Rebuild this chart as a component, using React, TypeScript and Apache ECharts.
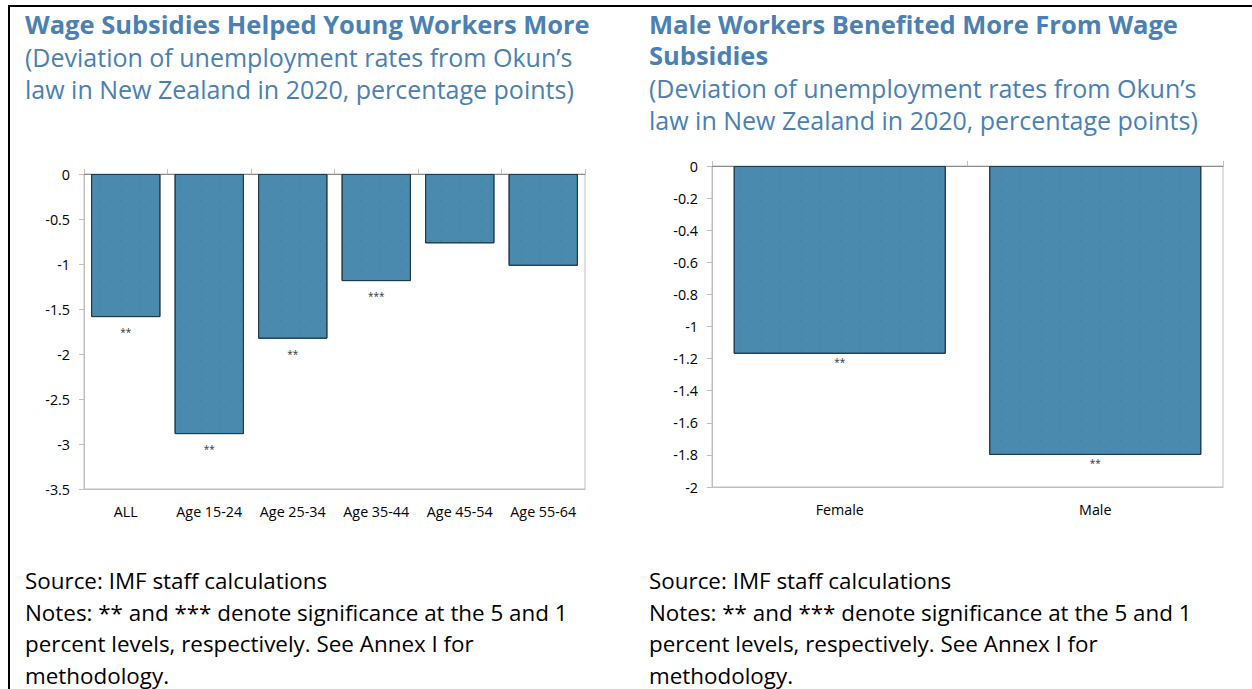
import React, { useEffect, useRef } from 'react';
import * as echarts from 'echarts';

const leftCategories = ['ALL', 'Age 15-24', 'Age 25-34', 'Age 35-44', 'Age 45-54', 'Age 55-64'];
const leftValues = [-1.59, -2.89, -1.83, -1.19, -0.77, -1.02];
const leftStars = ['**', '**', '**', '***', '', ''];

const rightCategories = ['Female', 'Male'];
const rightValues = [-1.17, -1.8];
const rightStars = ['**', '**'];

const leftTitle = ['Wage Subsidies Helped Young Workers More'];
const leftSubtitle = ['(Deviation of unemployment rates from Okun\u2019s', 'law in New Zealand in 2020, percentage points)'];
const rightTitle = ['Male Workers Benefited More From Wage', 'Subsidies'];
const rightSubtitle = ['(Deviation of unemployment rates from Okun\u2019s', 'law in New Zealand in 2020, percentage points)'];
const footer = [
  'Source: IMF staff calculations',
  'Notes: ** and *** denote significance at the 5 and 1',
  'percent levels, respectively. See Annex I for',
  'methodology.',
];

const FONT = "'Open Sans', 'Noto Sans', sans-serif";
const BLUE = '#4a80b4';
const BAR = '#4a8aae';
const AX = 14.3;

function textLines(lines: string[], x: number, ys: number[], size: number, weight: string, color: string) {
  return lines.map((t, i) => ({
    type: 'text',
    x,
    y: ys[i],
    style: { text: t, fill: color, fontSize: size, fontFamily: FONT, fontWeight: weight, verticalAlign: 'middle' },
  }));
}

export default function App() {
  const ref = useRef<HTMLDivElement>(null);
  useEffect(() => {
    const chart = echarts.init(ref.current!, null, { renderer: 'svg' });
    const mkX = (gi: number, cats: string[]) => [
      {
        type: 'category', gridIndex: gi, data: cats, position: 'bottom',
        axisLine: { show: true, onZero: false, lineStyle: { color: '#bfbfbf' } },
        axisTick: { show: false },
        axisLabel: { color: '#000', fontSize: AX, fontFamily: FONT, margin: 15, interval: 0, hideOverlap: false },
      },
      {
        type: 'category', gridIndex: gi, data: cats, position: 'top',
        axisLine: { show: true, onZero: false, lineStyle: { color: '#8c8c8c' } },
        axisTick: { show: true, length: 5, interval: 0, lineStyle: { color: '#bfbfbf' } },
        axisLabel: { show: false },
      },
    ];
    const mkY = (gi: number, min: number, interval: number) => ({
      type: 'value', gridIndex: gi, min, max: 0, interval,
      axisLine: { show: true, lineStyle: { color: '#bfbfbf' } },
      axisTick: { show: true, length: 5, lineStyle: { color: '#bfbfbf' } },
      splitLine: { show: false },
      axisLabel: { color: '#000', fontSize: AX, fontFamily: FONT, margin: 14 },
    });
    const mkBar = (gi: number, xi: number, values: number[], stars: string[], dist: number) => ({
      type: 'bar', xAxisIndex: xi, yAxisIndex: gi, data: values,
      barCategoryGap: '17%',
      itemStyle: {
        color: BAR, borderColor: '#1e3a4c', borderWidth: 1,
        decal: { symbol: 'rect', symbolSize: 1, dashArrayX: [[1, 9]], dashArrayY: [1, 9], color: 'rgba(40,90,120,0.35)' },
      },
      label: {
        show: true, position: 'bottom', distance: dist, fontSize: 10, color: '#333', fontFamily: FONT,
        formatter: (p: any) => stars[p.dataIndex],
      },
    });
    chart.setOption({
      animation: false,
      backgroundColor: '#fff',
      grid: [
        { left: 84, right: 1252 - 585, top: 174, bottom: 689 - 489, show: true, borderColor: '#bfbfbf', borderWidth: 1, backgroundColor: '#fff' },
        { left: 712, right: 1252 - 1223, top: 166, bottom: 689 - 487, show: true, borderColor: '#bfbfbf', borderWidth: 1, backgroundColor: '#fff' },
      ],
      xAxis: [...mkX(0, leftCategories), ...mkX(1, rightCategories)],
      yAxis: [mkY(0, -3.5, 0.5), mkY(1, -2, 0.2)],
      series: [mkBar(0, 0, leftValues, leftStars, 10), mkBar(1, 2, rightValues, rightStars, 3)],
      graphic: [
        { type: 'line', shape: { x1: 8, y1: 6, x2: 1252, y2: 6 }, style: { stroke: '#000', lineWidth: 2 } },
        { type: 'line', shape: { x1: 9, y1: 5, x2: 9, y2: 689 }, style: { stroke: '#000', lineWidth: 2 } },
        ...textLines(leftTitle, 25, [24], 25.5, 'bold', BLUE),
        ...textLines(leftSubtitle, 25, [57, 89], 25, 'normal', BLUE),
        ...textLines(rightTitle, 649, [24, 55], 25.5, 'bold', BLUE),
        ...textLines(rightSubtitle, 649, [88, 120], 25, 'normal', BLUE),
        ...textLines(footer, 25, [580, 612, 643.5, 675], 22.4, 'normal', '#000'),
        ...textLines(footer, 649, [580, 612, 643.5, 675], 22.4, 'normal', '#000'),
      ],
    });
    return () => chart.dispose();
  }, []);
  return <div ref={ref} style={{ position: 'absolute', left: 0, top: 0, width: 1252, height: 689, background: '#fff' }} />;
}
